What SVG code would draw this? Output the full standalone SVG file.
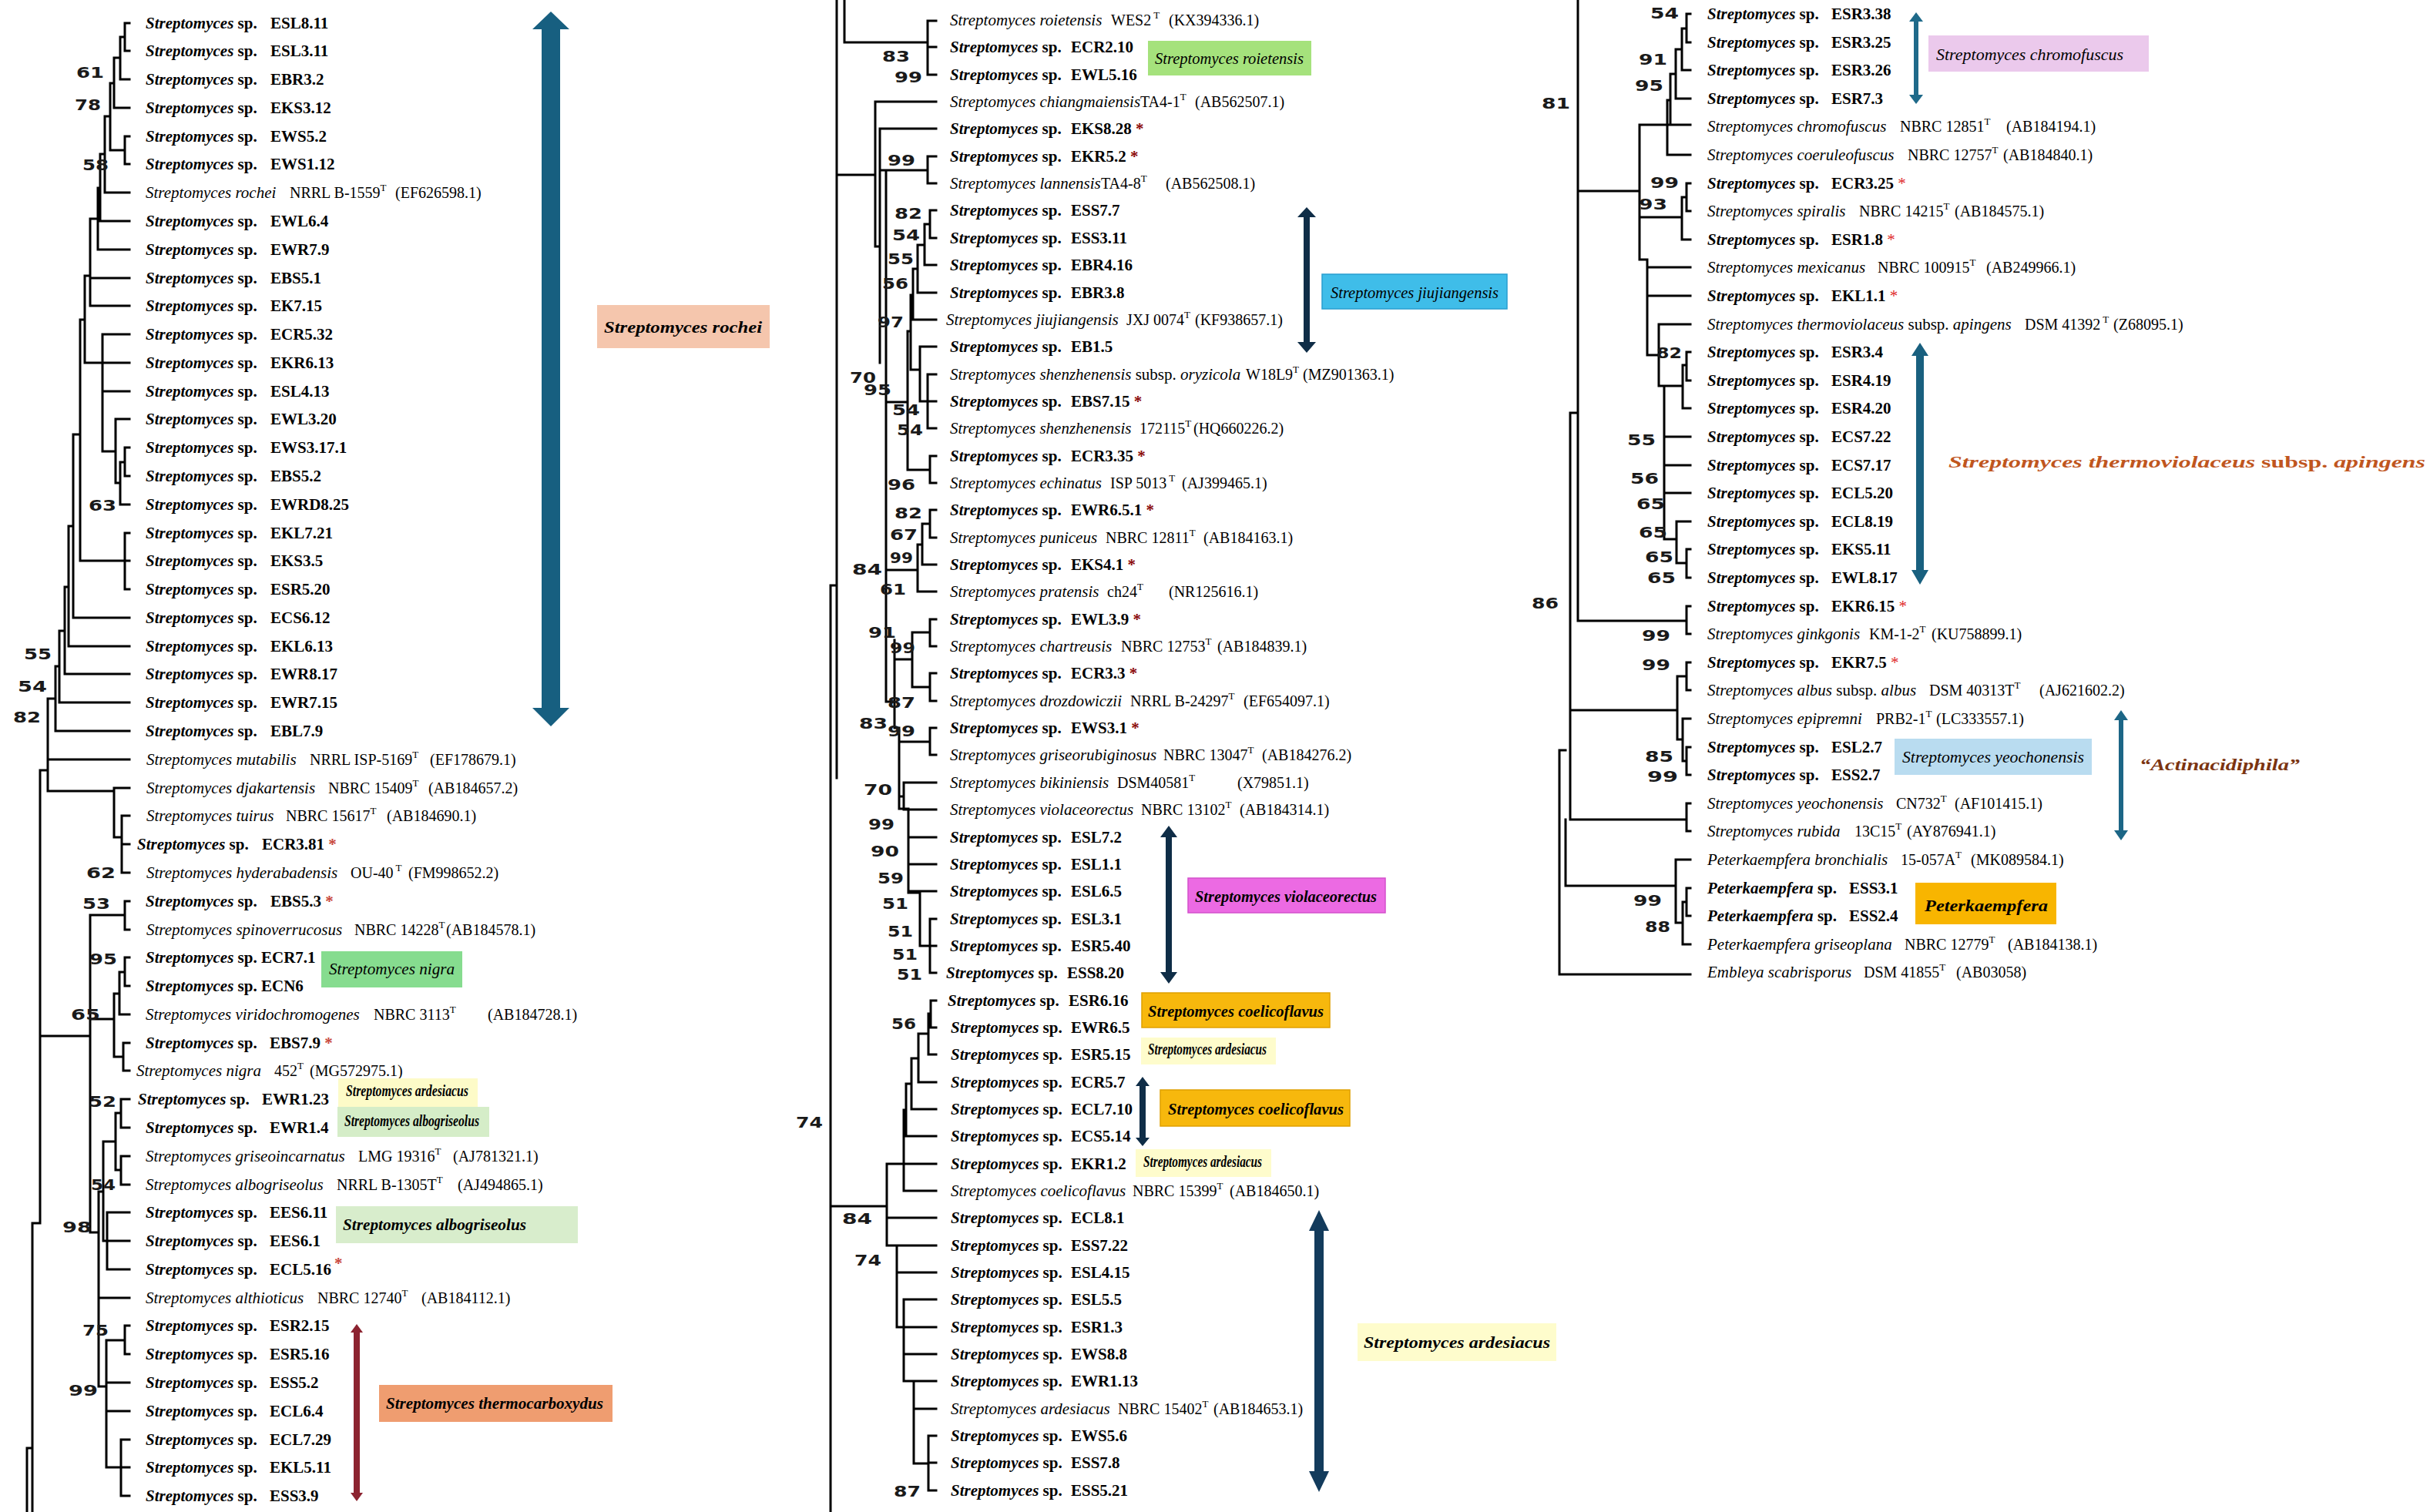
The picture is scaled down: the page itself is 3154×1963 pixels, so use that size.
<svg xmlns="http://www.w3.org/2000/svg" width="3154" height="1963" viewBox="0 0 3154 1963">
<style>
text{font-family:"Liberation Serif","Times New Roman",serif;font-size:21px;fill:#000}
.bi{font-weight:bold;font-style:italic}
.b{font-weight:bold}
.i{font-style:italic}
.r{font-size:20px}
.sup{font-size:13px}
.bs{font-family:"DejaVu Sans",sans-serif;font-weight:bold;font-size:19px;fill:#1a1a1a}
.aL{fill:#c8463c;font-weight:bold}
.aM{fill:#8b0a0a;font-weight:bold}
.aR{fill:#e02a2a}
.orange{fill:#c0561e}
.brown{fill:#7b3411}
.tree{fill:none;stroke:#000;stroke-width:3;stroke-linecap:square}
</style>
<rect width="3154" height="1963" fill="#fff"/>

<g id="connectors">
<path class="tree" d="M162 30V66M162 30H168M162 66H168 M156 48V103M156 48H162M156 103H168 M148 75V140M148 75H156M148 140H168 M162 177V213M162 177H168M162 213H168 M143 108V195M143 108H148M143 195H162 M136 151V250M136 151H143M136 250H168 M130 200V287M130 200H136M130 287H168 M127 244V324M127 244H130M127 324H168 M117 284V397M117 284H127M117 361H168M117 397H168 M110 358V471M110 358H117M110 471H133 M133 434V586M133 434H168M133 471H168M133 508H168M133 586H150 M150 544V627M150 544H168M150 627H156 M156 600V655M156 600H162M156 655H168 M162 581V618M162 581H168M162 618H168 M104 415V728M104 415H110M104 728H162 M162 692V765M162 692H168M162 728H168M162 765H168 M95 564V802M95 564H104M95 802H168 M89 683V839M89 683H95M89 839H168 M84 762V875M84 762H89M84 875H168 M77 819V912M77 819H84M77 912H168 M72 865V949M72 865H77M72 949H168 M62 907V1027M62 907H72M62 986H168M62 1027H148 M148 1023V1087M148 1023H168M148 1087H158 M158 1059V1133M158 1059H168M158 1096H168M158 1133H168 M162 1170V1207M162 1170H168M162 1207H168 M162 1243V1280M162 1243H168M162 1280H168 M155 1262V1317M155 1262H162M155 1317H168 M160 1354V1390M160 1354H168M160 1390H168 M148 1290V1372M148 1290H155M148 1372H160 M117 1188V1600M117 1188H162M117 1323H148M117 1600H128 M52 1000V1588M52 1000H62M52 1345H117 M157 1427V1464M157 1427H168M157 1464H168 M157 1501V1538M157 1501H168M157 1538H168 M150 1445V1519M150 1445H157M150 1519H157 M139 1574V1648M139 1574H168M139 1611H168M139 1648H168 M134 1482V1611M134 1482H150M134 1611H139 M128 1547V1800M128 1547H134M128 1685H168M128 1800H138 M162 1721V1758M162 1721H168M162 1758H168 M157 1869V1942M157 1869H168M157 1905H168M157 1942H168 M138 1740V1905M138 1740H162M138 1795H168M138 1832H168M138 1905H157 M42 1588V1963M42 1588H52M35 1880V1963M35 1880H42"/>
<path class="tree" d="M1086 0V1010M1078 760V1963M1078 760H1086 M1096 0V55H1204M1204 27V97M1204 27H1215M1204 61H1215M1204 97H1215 M1086 227H1136 M1136 132V320M1136 132H1215M1136 320H1142 M1142 167V471M1142 167H1215M1142 221H1204 M1204 203V238M1204 203H1215M1204 238H1215 M1150 223V911 M1207 273V309M1207 273H1215M1207 309H1215 M1200 291V344M1200 291H1207M1200 344H1215 M1191 318V380M1191 318H1200M1191 380H1215 M1185 349V415M1185 349H1191M1185 415H1215 M1182 383V480M1182 383H1185M1182 480H1194 M1194 450V521M1194 450H1215M1194 521H1204 M1204 486V556M1204 486H1215M1204 521H1215M1204 556H1215 M1178 430V610M1178 430H1182M1178 610H1207 M1207 592V627M1207 592H1215M1207 627H1215 M1150 522H1178 M1207 662V698M1207 662H1215M1207 698H1215 M1197 680V733M1197 680H1207M1197 733H1215 M1191 707V768M1191 707H1197M1191 768H1215 M1150 740H1191 M1207 804V839M1207 804H1215M1207 839H1215 M1207 874V910M1207 874H1215M1207 910H1215 M1184 821V892M1184 821H1207M1184 892H1207 M1161 831V945M1161 856H1184M1150 911H1161M1161 945H1167 M1167 945V1050M1167 963H1207 M1207 945V980M1207 945H1215M1207 980H1215 M1173 1016V1051M1173 1016H1215M1173 1051H1215M1167 1034H1173M1167 1050H1179 M1179 1050V1159M1179 1087H1215M1179 1122H1215M1179 1157H1215M1179 1159H1194 M1194 1159V1228M1194 1228H1207 M1207 1193V1263M1207 1193H1215M1207 1228H1215M1207 1263H1215 M1208 1299V1334M1208 1299H1215M1208 1334H1215 M1205 1316V1369M1205 1316H1208M1205 1369H1215 M1192 1342V1405M1192 1342H1205M1192 1405H1215 M1183 1374V1440M1183 1374H1192M1183 1440H1215 M1176 1407V1475M1176 1407H1183M1176 1475H1215 M1173 1441V1546M1173 1441H1176M1173 1546H1215 M1151 1511V1617M1151 1511H1215M1151 1581H1215M1151 1617H1164M1078 1566H1151 M1164 1617V1723M1164 1617H1215M1164 1652H1215M1164 1723H1173 M1173 1687V1793M1173 1687H1215M1173 1723H1215M1173 1758H1215M1173 1793H1215 M1186 1793V1900M1186 1829H1215M1186 1900H1205 M1205 1864V1935M1205 1864H1215M1205 1899H1215M1205 1935H1215"/>
<path class="tree" d="M2048 0V806M2048 806H2189 M2189 787V823M2189 787H2194M2189 823H2194 M2048 248H2128 M2128 162V337M2128 162H2194M2128 282H2183M2128 337H2138 M2189 18V55M2189 18H2194M2189 55H2194 M2183 37V91M2183 37H2189M2183 91H2194 M2175 64V128M2175 64H2183M2175 128H2194 M2168 96V162M2168 96H2175 M2164 130V201M2164 130H2168M2164 201H2194 M2189 238V274M2189 238H2194M2189 274H2194 M2183 256V311M2183 256H2189M2183 311H2194 M2138 337V461M2138 347H2194M2138 384H2194M2138 461H2153 M2153 421V501M2153 421H2194M2153 501H2184 M2189 457V494M2189 457H2194M2189 494H2194 M2184 474V530M2184 474H2189M2184 530H2194 M2160 501V700M2160 567H2194M2160 604H2194M2160 640H2194M2160 700H2176 M2176 677V731M2176 677H2194M2176 731H2189 M2189 713V750M2189 713H2194M2189 750H2194 M2038 536V1064M2038 536H2048M2038 922H2177M2038 1064H2189 M2032 1064V1150M2032 1150H2175 M2189 860V896M2189 860H2194M2189 896H2194 M2184 933V988M2184 933H2194M2184 988H2189 M2189 970V1006M2189 970H2194M2189 1006H2194 M2177 878V960M2177 878H2189M2177 960H2184 M2189 1043V1079M2189 1043H2194M2189 1079H2194 M2175 1116V1198M2175 1116H2194M2175 1198H2184 M2184 1171V1226M2184 1171H2189M2184 1226H2194 M2189 1153V1189M2189 1153H2194M2189 1189H2194 M2024 974V1265M2024 974H2032M2024 1265H2194"/>
</g>

<g id="bootstrap">
<text class="bs" x="99" y="101" textLength="36" lengthAdjust="spacingAndGlyphs">61</text>
<text class="bs" x="97" y="143" textLength="34" lengthAdjust="spacingAndGlyphs">78</text>
<text class="bs" x="107" y="221" textLength="34" lengthAdjust="spacingAndGlyphs">58</text>
<text class="bs" x="115" y="663" textLength="36" lengthAdjust="spacingAndGlyphs">63</text>
<text class="bs" x="31" y="856" textLength="36" lengthAdjust="spacingAndGlyphs">55</text>
<text class="bs" x="23" y="898" textLength="38" lengthAdjust="spacingAndGlyphs">54</text>
<text class="bs" x="17" y="938" textLength="36" lengthAdjust="spacingAndGlyphs">82</text>
<text class="bs" x="112" y="1140" textLength="38" lengthAdjust="spacingAndGlyphs">62</text>
<text class="bs" x="107" y="1180" textLength="36" lengthAdjust="spacingAndGlyphs">53</text>
<text class="bs" x="116" y="1252" textLength="36" lengthAdjust="spacingAndGlyphs">95</text>
<text class="bs" x="92" y="1324" textLength="38" lengthAdjust="spacingAndGlyphs">65</text>
<text class="bs" x="115" y="1437" textLength="36" lengthAdjust="spacingAndGlyphs">52</text>
<text class="bs" x="118" y="1545" textLength="32" lengthAdjust="spacingAndGlyphs">54</text>
<text class="bs" x="81" y="1600" textLength="38" lengthAdjust="spacingAndGlyphs">98</text>
<text class="bs" x="107" y="1734" textLength="34" lengthAdjust="spacingAndGlyphs">75</text>
<text class="bs" x="89" y="1812" textLength="38" lengthAdjust="spacingAndGlyphs">99</text>

<text class="bs" x="1145" y="80" textLength="36" lengthAdjust="spacingAndGlyphs">83</text>
<text class="bs" x="1161" y="107" textLength="36" lengthAdjust="spacingAndGlyphs">99</text>
<text class="bs" x="1152" y="215" textLength="36" lengthAdjust="spacingAndGlyphs">99</text>
<text class="bs" x="1161" y="284" textLength="36" lengthAdjust="spacingAndGlyphs">82</text>
<text class="bs" x="1158" y="312" textLength="36" lengthAdjust="spacingAndGlyphs">54</text>
<text class="bs" x="1152" y="343" textLength="34" lengthAdjust="spacingAndGlyphs">55</text>
<text class="bs" x="1145" y="375" textLength="34" lengthAdjust="spacingAndGlyphs">56</text>
<text class="bs" x="1139" y="425" textLength="34" lengthAdjust="spacingAndGlyphs">97</text>
<text class="bs" x="1103" y="497" textLength="34" lengthAdjust="spacingAndGlyphs">70</text>
<text class="bs" x="1121" y="513" textLength="36" lengthAdjust="spacingAndGlyphs">95</text>
<text class="bs" x="1158" y="539" textLength="36" lengthAdjust="spacingAndGlyphs">54</text>
<text class="bs" x="1164" y="565" textLength="34" lengthAdjust="spacingAndGlyphs">54</text>
<text class="bs" x="1152" y="636" textLength="36" lengthAdjust="spacingAndGlyphs">96</text>
<text class="bs" x="1161" y="673" textLength="36" lengthAdjust="spacingAndGlyphs">82</text>
<text class="bs" x="1155" y="701" textLength="36" lengthAdjust="spacingAndGlyphs">67</text>
<text class="bs" x="1155" y="731" textLength="30" lengthAdjust="spacingAndGlyphs">99</text>
<text class="bs" x="1106" y="746" textLength="39" lengthAdjust="spacingAndGlyphs">84</text>
<text class="bs" x="1142" y="772" textLength="34" lengthAdjust="spacingAndGlyphs">61</text>
<text class="bs" x="1127" y="828" textLength="36" lengthAdjust="spacingAndGlyphs">91</text>
<text class="bs" x="1155" y="848" textLength="33" lengthAdjust="spacingAndGlyphs">99</text>
<text class="bs" x="1152" y="919" textLength="36" lengthAdjust="spacingAndGlyphs">87</text>
<text class="bs" x="1115" y="946" textLength="37" lengthAdjust="spacingAndGlyphs">83</text>
<text class="bs" x="1152" y="956" textLength="36" lengthAdjust="spacingAndGlyphs">99</text>
<text class="bs" x="1121" y="1032" textLength="37" lengthAdjust="spacingAndGlyphs">70</text>
<text class="bs" x="1127" y="1077" textLength="34" lengthAdjust="spacingAndGlyphs">99</text>
<text class="bs" x="1130" y="1112" textLength="37" lengthAdjust="spacingAndGlyphs">90</text>
<text class="bs" x="1139" y="1147" textLength="34" lengthAdjust="spacingAndGlyphs">59</text>
<text class="bs" x="1145" y="1180" textLength="34" lengthAdjust="spacingAndGlyphs">51</text>
<text class="bs" x="1152" y="1216" textLength="33" lengthAdjust="spacingAndGlyphs">51</text>
<text class="bs" x="1158" y="1246" textLength="33" lengthAdjust="spacingAndGlyphs">51</text>
<text class="bs" x="1164" y="1272" textLength="33" lengthAdjust="spacingAndGlyphs">51</text>
<text class="bs" x="1157" y="1336" textLength="32" lengthAdjust="spacingAndGlyphs">56</text>
<text class="bs" x="1033" y="1464" textLength="35" lengthAdjust="spacingAndGlyphs">74</text>
<text class="bs" x="1093" y="1589" textLength="39" lengthAdjust="spacingAndGlyphs">84</text>
<text class="bs" x="1109" y="1643" textLength="35" lengthAdjust="spacingAndGlyphs">74</text>
<text class="bs" x="1160" y="1943" textLength="35" lengthAdjust="spacingAndGlyphs">87</text>

<text class="bs" x="2142" y="24" textLength="37" lengthAdjust="spacingAndGlyphs">54</text>
<text class="bs" x="2127" y="84" textLength="37" lengthAdjust="spacingAndGlyphs">91</text>
<text class="bs" x="2122" y="118" textLength="37" lengthAdjust="spacingAndGlyphs">95</text>
<text class="bs" x="2001" y="141" textLength="37" lengthAdjust="spacingAndGlyphs">81</text>
<text class="bs" x="2142" y="244" textLength="37" lengthAdjust="spacingAndGlyphs">99</text>
<text class="bs" x="2127" y="272" textLength="37" lengthAdjust="spacingAndGlyphs">93</text>
<text class="bs" x="2150" y="465" textLength="33" lengthAdjust="spacingAndGlyphs">82</text>
<text class="bs" x="2112" y="578" textLength="37" lengthAdjust="spacingAndGlyphs">55</text>
<text class="bs" x="2116" y="628" textLength="37" lengthAdjust="spacingAndGlyphs">56</text>
<text class="bs" x="2124" y="661" textLength="37" lengthAdjust="spacingAndGlyphs">65</text>
<text class="bs" x="2127" y="698" textLength="37" lengthAdjust="spacingAndGlyphs">65</text>
<text class="bs" x="2135" y="730" textLength="37" lengthAdjust="spacingAndGlyphs">65</text>
<text class="bs" x="2138" y="757" textLength="37" lengthAdjust="spacingAndGlyphs">65</text>
<text class="bs" x="1988" y="790" textLength="35" lengthAdjust="spacingAndGlyphs">86</text>
<text class="bs" x="2131" y="832" textLength="37" lengthAdjust="spacingAndGlyphs">99</text>
<text class="bs" x="2131" y="870" textLength="37" lengthAdjust="spacingAndGlyphs">99</text>
<text class="bs" x="2135" y="989" textLength="37" lengthAdjust="spacingAndGlyphs">85</text>
<text class="bs" x="2138" y="1015" textLength="40" lengthAdjust="spacingAndGlyphs">99</text>
<text class="bs" x="2120" y="1176" textLength="37" lengthAdjust="spacingAndGlyphs">99</text>
<text class="bs" x="2135" y="1210" textLength="33" lengthAdjust="spacingAndGlyphs">88</text>
</g>

<g id="left-leaves">
<g id="L00"><text x="189" y="37"><tspan class="bi">Streptomyces</tspan><tspan class="b"> sp.</tspan><tspan class="b" x="351">ESL8.11</tspan></text></g>
<g id="L01"><text x="189" y="73"><tspan class="bi">Streptomyces</tspan><tspan class="b"> sp.</tspan><tspan class="b" x="351">ESL3.11</tspan></text></g>
<g id="L02"><text x="189" y="110"><tspan class="bi">Streptomyces</tspan><tspan class="b"> sp.</tspan><tspan class="b" x="351">EBR3.2</tspan></text></g>
<g id="L03"><text x="189" y="147"><tspan class="bi">Streptomyces</tspan><tspan class="b"> sp.</tspan><tspan class="b" x="351">EKS3.12</tspan></text></g>
<g id="L04"><text x="189" y="184"><tspan class="bi">Streptomyces</tspan><tspan class="b"> sp.</tspan><tspan class="b" x="351">EWS5.2</tspan></text></g>
<g id="L05"><text x="189" y="220"><tspan class="bi">Streptomyces</tspan><tspan class="b"> sp.</tspan><tspan class="b" x="351">EWS1.12</tspan></text></g>
<g id="L06"><text x="189" y="257"><tspan class="i">Streptomyces rochei</tspan><tspan class="r" x="376">NRRL B-1559</tspan><tspan class="sup" dy="-9">T</tspan><tspan class="r" x="513" dy="9">(EF626598.1)</tspan></text></g>
<g id="L07"><text x="189" y="294"><tspan class="bi">Streptomyces</tspan><tspan class="b"> sp.</tspan><tspan class="b" x="351">EWL6.4</tspan></text></g>
<g id="L08"><text x="189" y="331"><tspan class="bi">Streptomyces</tspan><tspan class="b"> sp.</tspan><tspan class="b" x="351">EWR7.9</tspan></text></g>
<g id="L09"><text x="189" y="368"><tspan class="bi">Streptomyces</tspan><tspan class="b"> sp.</tspan><tspan class="b" x="351">EBS5.1</tspan></text></g>
<g id="L10"><text x="189" y="404"><tspan class="bi">Streptomyces</tspan><tspan class="b"> sp.</tspan><tspan class="b" x="351">EK7.15</tspan></text></g>
<g id="L11"><text x="189" y="441"><tspan class="bi">Streptomyces</tspan><tspan class="b"> sp.</tspan><tspan class="b" x="351">ECR5.32</tspan></text></g>
<g id="L12"><text x="189" y="478"><tspan class="bi">Streptomyces</tspan><tspan class="b"> sp.</tspan><tspan class="b" x="351">EKR6.13</tspan></text></g>
<g id="L13"><text x="189" y="515"><tspan class="bi">Streptomyces</tspan><tspan class="b"> sp.</tspan><tspan class="b" x="351">ESL4.13</tspan></text></g>
<g id="L14"><text x="189" y="551"><tspan class="bi">Streptomyces</tspan><tspan class="b"> sp.</tspan><tspan class="b" x="351">EWL3.20</tspan></text></g>
<g id="L15"><text x="189" y="588"><tspan class="bi">Streptomyces</tspan><tspan class="b"> sp.</tspan><tspan class="b" x="351">EWS3.17.1</tspan></text></g>
<g id="L16"><text x="189" y="625"><tspan class="bi">Streptomyces</tspan><tspan class="b"> sp.</tspan><tspan class="b" x="351">EBS5.2</tspan></text></g>
<g id="L17"><text x="189" y="662"><tspan class="bi">Streptomyces</tspan><tspan class="b"> sp.</tspan><tspan class="b" x="351">EWRD8.25</tspan></text></g>
<g id="L18"><text x="189" y="699"><tspan class="bi">Streptomyces</tspan><tspan class="b"> sp.</tspan><tspan class="b" x="351">EKL7.21</tspan></text></g>
<g id="L19"><text x="189" y="735"><tspan class="bi">Streptomyces</tspan><tspan class="b"> sp.</tspan><tspan class="b" x="351">EKS3.5</tspan></text></g>
<g id="L20"><text x="189" y="772"><tspan class="bi">Streptomyces</tspan><tspan class="b"> sp.</tspan><tspan class="b" x="351">ESR5.20</tspan></text></g>
<g id="L21"><text x="189" y="809"><tspan class="bi">Streptomyces</tspan><tspan class="b"> sp.</tspan><tspan class="b" x="351">ECS6.12</tspan></text></g>
<g id="L22"><text x="189" y="846"><tspan class="bi">Streptomyces</tspan><tspan class="b"> sp.</tspan><tspan class="b" x="351">EKL6.13</tspan></text></g>
<g id="L23"><text x="189" y="882"><tspan class="bi">Streptomyces</tspan><tspan class="b"> sp.</tspan><tspan class="b" x="351">EWR8.17</tspan></text></g>
<g id="L24"><text x="189" y="919"><tspan class="bi">Streptomyces</tspan><tspan class="b"> sp.</tspan><tspan class="b" x="351">EWR7.15</tspan></text></g>
<g id="L25"><text x="189" y="956"><tspan class="bi">Streptomyces</tspan><tspan class="b"> sp.</tspan><tspan class="b" x="351">EBL7.9</tspan></text></g>
<g id="L26"><text x="190" y="993"><tspan class="i">Streptomyces mutabilis</tspan><tspan class="r" x="402">NRRL ISP-5169</tspan><tspan class="sup" dy="-9">T</tspan><tspan class="r" x="558" dy="9">(EF178679.1)</tspan></text></g>
<g id="L27"><text x="190" y="1030"><tspan class="i">Streptomyces djakartensis</tspan><tspan class="r" x="426">NBRC 15409</tspan><tspan class="sup" dy="-9">T</tspan><tspan class="r" x="556" dy="9">(AB184657.2)</tspan></text></g>
<g id="L28"><text x="190" y="1066"><tspan class="i">Streptomyces tuirus</tspan><tspan class="r" x="371">NBRC 15617</tspan><tspan class="sup" dy="-9">T</tspan><tspan class="r" x="502" dy="9">(AB184690.1)</tspan></text></g>
<g id="L29"><text x="178" y="1103"><tspan class="bi">Streptomyces</tspan><tspan class="b"> sp.</tspan><tspan class="b" x="340">ECR3.81</tspan><tspan class="aL"> *</tspan></text></g>
<g id="L30"><text x="190" y="1140"><tspan class="i">Streptomyces hyderabadensis</tspan><tspan class="r" x="455">OU-40</tspan><tspan class="sup" dy="-9"> T</tspan><tspan class="r" x="530" dy="9">(FM998652.2)</tspan></text></g>
<g id="L31"><text x="189" y="1177"><tspan class="bi">Streptomyces</tspan><tspan class="b"> sp.</tspan><tspan class="b" x="351">EBS5.3</tspan><tspan class="aL"> *</tspan></text></g>
<g id="L32"><text x="190" y="1214"><tspan class="i">Streptomyces spinoverrucosus</tspan><tspan class="r" x="460">NBRC 14228</tspan><tspan class="sup" dy="-9">T</tspan><tspan class="r" x="579" dy="9">(AB184578.1)</tspan></text></g>
<g id="L33"><text x="189" y="1250"><tspan class="bi">Streptomyces</tspan><tspan class="b"> sp.</tspan><tspan class="b" x="339">ECR7.1</tspan></text></g>
<g id="L34"><text x="189" y="1287"><tspan class="bi">Streptomyces</tspan><tspan class="b"> sp.</tspan><tspan class="b" x="339">ECN6</tspan></text></g>
<g id="L35"><text x="189" y="1324"><tspan class="i">Streptomyces viridochromogenes</tspan><tspan class="r" x="485">NBRC 3113</tspan><tspan class="sup" dy="-9">T</tspan><tspan class="r" x="633" dy="9">(AB184728.1)</tspan></text></g>
<g id="L36"><text x="189" y="1361"><tspan class="bi">Streptomyces</tspan><tspan class="b"> sp.</tspan><tspan class="b" x="350">EBS7.9</tspan><tspan class="aL"> *</tspan></text></g>
<g id="L37"><text x="177" y="1397"><tspan class="i">Streptomyces nigra</tspan><tspan class="r" x="356">452</tspan><tspan class="sup" dy="-9">T</tspan><tspan class="r" x="402" dy="9">(MG572975.1)</tspan></text></g>
<g id="L38"><text x="179" y="1434"><tspan class="bi">Streptomyces</tspan><tspan class="b"> sp.</tspan><tspan class="b" x="340">EWR1.23</tspan></text></g>
<g id="L39"><text x="189" y="1471"><tspan class="bi">Streptomyces</tspan><tspan class="b"> sp.</tspan><tspan class="b" x="350">EWR1.4</tspan></text></g>
<g id="L40"><text x="189" y="1508"><tspan class="i">Streptomyces griseoincarnatus</tspan><tspan class="r" x="465">LMG 19316</tspan><tspan class="sup" dy="-9">T</tspan><tspan class="r" x="588" dy="9">(AJ781321.1)</tspan></text></g>
<g id="L41"><text x="189" y="1545"><tspan class="i">Streptomyces albogriseolus</tspan><tspan class="r" x="437">NRRL B-1305T</tspan><tspan class="sup" dy="-9">T</tspan><tspan class="r" x="594" dy="9">(AJ494865.1)</tspan></text></g>
<g id="L42"><text x="189" y="1581"><tspan class="bi">Streptomyces</tspan><tspan class="b"> sp.</tspan><tspan class="b" x="350">EES6.11</tspan></text></g>
<g id="L43"><text x="189" y="1618"><tspan class="bi">Streptomyces</tspan><tspan class="b"> sp.</tspan><tspan class="b" x="350">EES6.1</tspan></text></g>
<g id="L44"><text x="189" y="1655"><tspan class="bi">Streptomyces</tspan><tspan class="b"> sp.</tspan><tspan class="b" x="350">ECL5.16</tspan><tspan class="aL" dx="4" dy="-8">*</tspan></text></g>
<g id="L45"><text x="189" y="1692"><tspan class="i">Streptomyces althioticus</tspan><tspan class="r" x="412">NBRC 12740</tspan><tspan class="sup" dy="-9">T</tspan><tspan class="r" x="547" dy="9">(AB184112.1)</tspan></text></g>
<g id="L46"><text x="189" y="1728"><tspan class="bi">Streptomyces</tspan><tspan class="b"> sp.</tspan><tspan class="b" x="350">ESR2.15</tspan></text></g>
<g id="L47"><text x="189" y="1765"><tspan class="bi">Streptomyces</tspan><tspan class="b"> sp.</tspan><tspan class="b" x="350">ESR5.16</tspan></text></g>
<g id="L48"><text x="189" y="1802"><tspan class="bi">Streptomyces</tspan><tspan class="b"> sp.</tspan><tspan class="b" x="350">ESS5.2</tspan></text></g>
<g id="L49"><text x="189" y="1839"><tspan class="bi">Streptomyces</tspan><tspan class="b"> sp.</tspan><tspan class="b" x="350">ECL6.4</tspan></text></g>
<g id="L50"><text x="189" y="1876"><tspan class="bi">Streptomyces</tspan><tspan class="b"> sp.</tspan><tspan class="b" x="350">ECL7.29</tspan></text></g>
<g id="L51"><text x="189" y="1912"><tspan class="bi">Streptomyces</tspan><tspan class="b"> sp.</tspan><tspan class="b" x="350">EKL5.11</tspan></text></g>
<g id="L52"><text x="189" y="1949"><tspan class="bi">Streptomyces</tspan><tspan class="b"> sp.</tspan><tspan class="b" x="350">ESS3.9</tspan></text></g>
</g>

<g id="middle-leaves">
<g id="M00"><text x="1233" y="33"><tspan class="i">Streptomyces roietensis</tspan><tspan class="r" x="1442">WES2</tspan><tspan class="sup" dy="-9"> T</tspan><tspan class="r" x="1517" dy="9">(KX394336.1)</tspan></text></g>
<g id="M01"><text x="1233" y="68"><tspan class="bi">Streptomyces</tspan><tspan class="b"> sp.</tspan><tspan class="b" x="1390">ECR2.10</tspan></text></g>
<g id="M02"><text x="1233" y="104"><tspan class="bi">Streptomyces</tspan><tspan class="b"> sp.</tspan><tspan class="b" x="1390">EWL5.16</tspan></text></g>
<g id="M03"><text x="1233" y="139"><tspan class="i">Streptomyces chiangmaiensis</tspan><tspan class="r" x="1480">TA4-1</tspan><tspan class="sup" dy="-9">T</tspan><tspan class="r" x="1551" dy="9">(AB562507.1)</tspan></text></g>
<g id="M04"><text x="1233" y="174"><tspan class="bi">Streptomyces</tspan><tspan class="b"> sp.</tspan><tspan class="b" x="1390">EKS8.28</tspan><tspan class="aM"> *</tspan></text></g>
<g id="M05"><text x="1233" y="210"><tspan class="bi">Streptomyces</tspan><tspan class="b"> sp.</tspan><tspan class="b" x="1390">EKR5.2</tspan><tspan class="aM"> *</tspan></text></g>
<g id="M06"><text x="1233" y="245"><tspan class="i">Streptomyces lannensis</tspan><tspan class="r" x="1429">TA4-8</tspan><tspan class="sup" dy="-9">T</tspan><tspan class="r" x="1513" dy="9">(AB562508.1)</tspan></text></g>
<g id="M07"><text x="1233" y="280"><tspan class="bi">Streptomyces</tspan><tspan class="b"> sp.</tspan><tspan class="b" x="1390">ESS7.7</tspan></text></g>
<g id="M08"><text x="1233" y="316"><tspan class="bi">Streptomyces</tspan><tspan class="b"> sp.</tspan><tspan class="b" x="1390">ESS3.11</tspan></text></g>
<g id="M09"><text x="1233" y="351"><tspan class="bi">Streptomyces</tspan><tspan class="b"> sp.</tspan><tspan class="b" x="1390">EBR4.16</tspan></text></g>
<g id="M10"><text x="1233" y="387"><tspan class="bi">Streptomyces</tspan><tspan class="b"> sp.</tspan><tspan class="b" x="1390">EBR3.8</tspan></text></g>
<g id="M11"><text x="1228" y="422"><tspan class="i">Streptomyces jiujiangensis</tspan><tspan class="r" x="1462">JXJ 0074</tspan><tspan class="sup" dy="-9">T</tspan><tspan class="r" x="1551" dy="9">(KF938657.1)</tspan></text></g>
<g id="M12"><text x="1233" y="457"><tspan class="bi">Streptomyces</tspan><tspan class="b"> sp.</tspan><tspan class="b" x="1390">EB1.5</tspan></text></g>
<g id="M13"><text x="1233" y="493"><tspan class="i">Streptomyces shenzhenensis</tspan><tspan> subsp. </tspan><tspan class="i">oryzicola</tspan><tspan class="r" x="1617">W18L9</tspan><tspan class="sup" dy="-9">T</tspan><tspan class="r" x="1691" dy="9">(MZ901363.1)</tspan></text></g>
<g id="M14"><text x="1233" y="528"><tspan class="bi">Streptomyces</tspan><tspan class="b"> sp.</tspan><tspan class="b" x="1390">EBS7.15</tspan><tspan class="aM"> *</tspan></text></g>
<g id="M15"><text x="1233" y="563"><tspan class="i">Streptomyces shenzhenensis</tspan><tspan class="r" x="1479">172115</tspan><tspan class="sup" dy="-9">T</tspan><tspan class="r" x="1549" dy="9">(HQ660226.2)</tspan></text></g>
<g id="M16"><text x="1233" y="599"><tspan class="bi">Streptomyces</tspan><tspan class="b"> sp.</tspan><tspan class="b" x="1390">ECR3.35</tspan><tspan class="aM"> *</tspan></text></g>
<g id="M17"><text x="1233" y="634"><tspan class="i">Streptomyces echinatus</tspan><tspan class="r" x="1441">ISP 5013</tspan><tspan class="sup" dy="-9"> T</tspan><tspan class="r" x="1534" dy="9">(AJ399465.1)</tspan></text></g>
<g id="M18"><text x="1233" y="669"><tspan class="bi">Streptomyces</tspan><tspan class="b"> sp.</tspan><tspan class="b" x="1390">EWR6.5.1</tspan><tspan class="aM"> *</tspan></text></g>
<g id="M19"><text x="1233" y="705"><tspan class="i">Streptomyces puniceus</tspan><tspan class="r" x="1435">NBRC 12811</tspan><tspan class="sup" dy="-9">T</tspan><tspan class="r" x="1562" dy="9">(AB184163.1)</tspan></text></g>
<g id="M20"><text x="1233" y="740"><tspan class="bi">Streptomyces</tspan><tspan class="b"> sp.</tspan><tspan class="b" x="1390">EKS4.1</tspan><tspan class="aM"> *</tspan></text></g>
<g id="M21"><text x="1233" y="775"><tspan class="i">Streptomyces pratensis</tspan><tspan class="r" x="1437">ch24</tspan><tspan class="sup" dy="-9">T</tspan><tspan class="r" x="1517" dy="9">(NR125616.1)</tspan></text></g>
<g id="M22"><text x="1233" y="811"><tspan class="bi">Streptomyces</tspan><tspan class="b"> sp.</tspan><tspan class="b" x="1390">EWL3.9</tspan><tspan class="aM"> *</tspan></text></g>
<g id="M23"><text x="1233" y="846"><tspan class="i">Streptomyces chartreusis</tspan><tspan class="r" x="1455">NBRC 12753</tspan><tspan class="sup" dy="-9">T</tspan><tspan class="r" x="1580" dy="9">(AB184839.1)</tspan></text></g>
<g id="M24"><text x="1233" y="881"><tspan class="bi">Streptomyces</tspan><tspan class="b"> sp.</tspan><tspan class="b" x="1390">ECR3.3</tspan><tspan class="aM"> *</tspan></text></g>
<g id="M25"><text x="1233" y="917"><tspan class="i">Streptomyces drozdowiczii</tspan><tspan class="r" x="1467">NRRL B-24297</tspan><tspan class="sup" dy="-9">T</tspan><tspan class="r" x="1614" dy="9">(EF654097.1)</tspan></text></g>
<g id="M26"><text x="1233" y="952"><tspan class="bi">Streptomyces</tspan><tspan class="b"> sp.</tspan><tspan class="b" x="1390">EWS3.1</tspan><tspan class="aM"> *</tspan></text></g>
<g id="M27"><text x="1233" y="987"><tspan class="i">Streptomyces griseorubiginosus</tspan><tspan class="r" x="1510">NBRC 13047</tspan><tspan class="sup" dy="-9">T</tspan><tspan class="r" x="1638" dy="9">(AB184276.2)</tspan></text></g>
<g id="M28"><text x="1233" y="1023"><tspan class="i">Streptomyces bikiniensis</tspan><tspan class="r" x="1450">DSM40581</tspan><tspan class="sup" dy="-9">T</tspan><tspan class="r" x="1606" dy="9">(X79851.1)</tspan></text></g>
<g id="M29"><text x="1233" y="1058"><tspan class="i">Streptomyces violaceorectus</tspan><tspan class="r" x="1481">NBRC 13102</tspan><tspan class="sup" dy="-9">T</tspan><tspan class="r" x="1609" dy="9">(AB184314.1)</tspan></text></g>
<g id="M30"><text x="1233" y="1094"><tspan class="bi">Streptomyces</tspan><tspan class="b"> sp.</tspan><tspan class="b" x="1390">ESL7.2</tspan></text></g>
<g id="M31"><text x="1233" y="1129"><tspan class="bi">Streptomyces</tspan><tspan class="b"> sp.</tspan><tspan class="b" x="1390">ESL1.1</tspan></text></g>
<g id="M32"><text x="1233" y="1164"><tspan class="bi">Streptomyces</tspan><tspan class="b"> sp.</tspan><tspan class="b" x="1390">ESL6.5</tspan></text></g>
<g id="M33"><text x="1233" y="1200"><tspan class="bi">Streptomyces</tspan><tspan class="b"> sp.</tspan><tspan class="b" x="1390">ESL3.1</tspan></text></g>
<g id="M34"><text x="1233" y="1235"><tspan class="bi">Streptomyces</tspan><tspan class="b"> sp.</tspan><tspan class="b" x="1390">ESR5.40</tspan></text></g>
<g id="M35"><text x="1228" y="1270"><tspan class="bi">Streptomyces</tspan><tspan class="b"> sp.</tspan><tspan class="b" x="1385">ESS8.20</tspan></text></g>
<g id="M36"><text x="1230" y="1306"><tspan class="bi">Streptomyces</tspan><tspan class="b"> sp.</tspan><tspan class="b" x="1387">ESR6.16</tspan></text></g>
<g id="M37"><text x="1234" y="1341"><tspan class="bi">Streptomyces</tspan><tspan class="b"> sp.</tspan><tspan class="b" x="1390">EWR6.5</tspan></text></g>
<g id="M38"><text x="1234" y="1376"><tspan class="bi">Streptomyces</tspan><tspan class="b"> sp.</tspan><tspan class="b" x="1390">ESR5.15</tspan></text></g>
<g id="M39"><text x="1234" y="1412"><tspan class="bi">Streptomyces</tspan><tspan class="b"> sp.</tspan><tspan class="b" x="1390">ECR5.7</tspan></text></g>
<g id="M40"><text x="1234" y="1447"><tspan class="bi">Streptomyces</tspan><tspan class="b"> sp.</tspan><tspan class="b" x="1390">ECL7.10</tspan></text></g>
<g id="M41"><text x="1234" y="1482"><tspan class="bi">Streptomyces</tspan><tspan class="b"> sp.</tspan><tspan class="b" x="1390">ECS5.14</tspan></text></g>
<g id="M42"><text x="1234" y="1518"><tspan class="bi">Streptomyces</tspan><tspan class="b"> sp.</tspan><tspan class="b" x="1390">EKR1.2</tspan></text></g>
<g id="M43"><text x="1234" y="1553"><tspan class="i">Streptomyces coelicoflavus</tspan><tspan class="r" x="1470">NBRC 15399</tspan><tspan class="sup" dy="-9">T</tspan><tspan class="r" x="1596" dy="9">(AB184650.1)</tspan></text></g>
<g id="M44"><text x="1234" y="1588"><tspan class="bi">Streptomyces</tspan><tspan class="b"> sp.</tspan><tspan class="b" x="1390">ECL8.1</tspan></text></g>
<g id="M45"><text x="1234" y="1624"><tspan class="bi">Streptomyces</tspan><tspan class="b"> sp.</tspan><tspan class="b" x="1390">ESS7.22</tspan></text></g>
<g id="M46"><text x="1234" y="1659"><tspan class="bi">Streptomyces</tspan><tspan class="b"> sp.</tspan><tspan class="b" x="1390">ESL4.15</tspan></text></g>
<g id="M47"><text x="1234" y="1694"><tspan class="bi">Streptomyces</tspan><tspan class="b"> sp.</tspan><tspan class="b" x="1390">ESL5.5</tspan></text></g>
<g id="M48"><text x="1234" y="1730"><tspan class="bi">Streptomyces</tspan><tspan class="b"> sp.</tspan><tspan class="b" x="1390">ESR1.3</tspan></text></g>
<g id="M49"><text x="1234" y="1765"><tspan class="bi">Streptomyces</tspan><tspan class="b"> sp.</tspan><tspan class="b" x="1390">EWS8.8</tspan></text></g>
<g id="M50"><text x="1234" y="1800"><tspan class="bi">Streptomyces</tspan><tspan class="b"> sp.</tspan><tspan class="b" x="1390">EWR1.13</tspan></text></g>
<g id="M51"><text x="1234" y="1836"><tspan class="i">Streptomyces ardesiacus</tspan><tspan class="r" x="1451">NBRC 15402</tspan><tspan class="sup" dy="-9">T</tspan><tspan class="r" x="1575" dy="9">(AB184653.1)</tspan></text></g>
<g id="M52"><text x="1234" y="1871"><tspan class="bi">Streptomyces</tspan><tspan class="b"> sp.</tspan><tspan class="b" x="1390">EWS5.6</tspan></text></g>
<g id="M53"><text x="1234" y="1906"><tspan class="bi">Streptomyces</tspan><tspan class="b"> sp.</tspan><tspan class="b" x="1390">ESS7.8</tspan></text></g>
<g id="M54"><text x="1234" y="1942"><tspan class="bi">Streptomyces</tspan><tspan class="b"> sp.</tspan><tspan class="b" x="1390">ESS5.21</tspan></text></g>
</g>

<g id="right-leaves">
<g id="R00"><text x="2216" y="25"><tspan class="bi">Streptomyces</tspan><tspan class="b"> sp.</tspan><tspan class="b" x="2377">ESR3.38</tspan></text></g>
<g id="R01"><text x="2216" y="62"><tspan class="bi">Streptomyces</tspan><tspan class="b"> sp.</tspan><tspan class="b" x="2377">ESR3.25</tspan></text></g>
<g id="R02"><text x="2216" y="98"><tspan class="bi">Streptomyces</tspan><tspan class="b"> sp.</tspan><tspan class="b" x="2377">ESR3.26</tspan></text></g>
<g id="R03"><text x="2216" y="135"><tspan class="bi">Streptomyces</tspan><tspan class="b"> sp.</tspan><tspan class="b" x="2377">ESR7.3</tspan></text></g>
<g id="R04"><text x="2216" y="171"><tspan class="i">Streptomyces chromofuscus</tspan><tspan class="r" x="2466">NBRC 12851</tspan><tspan class="sup" dy="-9">T</tspan><tspan class="r" x="2604" dy="9">(AB184194.1)</tspan></text></g>
<g id="R05"><text x="2216" y="208"><tspan class="i">Streptomyces coeruleofuscus</tspan><tspan class="r" x="2476">NBRC 12757</tspan><tspan class="sup" dy="-9">T</tspan><tspan class="r" x="2600" dy="9">(AB184840.1)</tspan></text></g>
<g id="R06"><text x="2216" y="245"><tspan class="bi">Streptomyces</tspan><tspan class="b"> sp.</tspan><tspan class="b" x="2377">ECR3.25</tspan><tspan class="aR"> *</tspan></text></g>
<g id="R07"><text x="2216" y="281"><tspan class="i">Streptomyces spiralis</tspan><tspan class="r" x="2413">NBRC 14215</tspan><tspan class="sup" dy="-9">T</tspan><tspan class="r" x="2537" dy="9">(AB184575.1)</tspan></text></g>
<g id="R08"><text x="2216" y="318"><tspan class="bi">Streptomyces</tspan><tspan class="b"> sp.</tspan><tspan class="b" x="2377">ESR1.8</tspan><tspan class="aR"> *</tspan></text></g>
<g id="R09"><text x="2216" y="354"><tspan class="i">Streptomyces mexicanus</tspan><tspan class="r" x="2437">NBRC 100915</tspan><tspan class="sup" dy="-9">T</tspan><tspan class="r" x="2578" dy="9">(AB249966.1)</tspan></text></g>
<g id="R10"><text x="2216" y="391"><tspan class="bi">Streptomyces</tspan><tspan class="b"> sp.</tspan><tspan class="b" x="2377">EKL1.1</tspan><tspan class="aR"> *</tspan></text></g>
<g id="R11"><text x="2216" y="428"><tspan class="i">Streptomyces thermoviolaceus</tspan><tspan> subsp. </tspan><tspan class="i">apingens</tspan><tspan class="r" x="2628">DSM 41392</tspan><tspan class="sup" dy="-9"> T</tspan><tspan class="r" x="2743" dy="9">(Z68095.1)</tspan></text></g>
<g id="R12"><text x="2216" y="464"><tspan class="bi">Streptomyces</tspan><tspan class="b"> sp.</tspan><tspan class="b" x="2377">ESR3.4</tspan></text></g>
<g id="R13"><text x="2216" y="501"><tspan class="bi">Streptomyces</tspan><tspan class="b"> sp.</tspan><tspan class="b" x="2377">ESR4.19</tspan></text></g>
<g id="R14"><text x="2216" y="537"><tspan class="bi">Streptomyces</tspan><tspan class="b"> sp.</tspan><tspan class="b" x="2377">ESR4.20</tspan></text></g>
<g id="R15"><text x="2216" y="574"><tspan class="bi">Streptomyces</tspan><tspan class="b"> sp.</tspan><tspan class="b" x="2377">ECS7.22</tspan></text></g>
<g id="R16"><text x="2216" y="611"><tspan class="bi">Streptomyces</tspan><tspan class="b"> sp.</tspan><tspan class="b" x="2377">ECS7.17</tspan></text></g>
<g id="R17"><text x="2216" y="647"><tspan class="bi">Streptomyces</tspan><tspan class="b"> sp.</tspan><tspan class="b" x="2377">ECL5.20</tspan></text></g>
<g id="R18"><text x="2216" y="684"><tspan class="bi">Streptomyces</tspan><tspan class="b"> sp.</tspan><tspan class="b" x="2377">ECL8.19</tspan></text></g>
<g id="R19"><text x="2216" y="720"><tspan class="bi">Streptomyces</tspan><tspan class="b"> sp.</tspan><tspan class="b" x="2377">EKS5.11</tspan></text></g>
<g id="R20"><text x="2216" y="757"><tspan class="bi">Streptomyces</tspan><tspan class="b"> sp.</tspan><tspan class="b" x="2377">EWL8.17</tspan></text></g>
<g id="R21"><text x="2216" y="794"><tspan class="bi">Streptomyces</tspan><tspan class="b"> sp.</tspan><tspan class="b" x="2377">EKR6.15</tspan><tspan class="aR"> *</tspan></text></g>
<g id="R22"><text x="2216" y="830"><tspan class="i">Streptomyces ginkgonis</tspan><tspan class="r" x="2426">KM-1-2</tspan><tspan class="sup" dy="-9">T</tspan><tspan class="r" x="2507" dy="9">(KU758899.1)</tspan></text></g>
<g id="R23"><text x="2216" y="867"><tspan class="bi">Streptomyces</tspan><tspan class="b"> sp.</tspan><tspan class="b" x="2377">EKR7.5</tspan><tspan class="aR"> *</tspan></text></g>
<g id="R24"><text x="2216" y="903"><tspan class="i">Streptomyces albus</tspan><tspan> subsp. </tspan><tspan class="i">albus</tspan><tspan class="r" x="2504">DSM 40313T</tspan><tspan class="sup" dy="-9">T</tspan><tspan class="r" x="2647" dy="9">(AJ621602.2)</tspan></text></g>
<g id="R25"><text x="2216" y="940"><tspan class="i">Streptomyces epipremni</tspan><tspan class="r" x="2435">PRB2-1</tspan><tspan class="sup" dy="-9">T</tspan><tspan class="r" x="2513" dy="9">(LC333557.1)</tspan></text></g>
<g id="R26"><text x="2216" y="977"><tspan class="bi">Streptomyces</tspan><tspan class="b"> sp.</tspan><tspan class="b" x="2377">ESL2.7</tspan></text></g>
<g id="R27"><text x="2216" y="1013"><tspan class="bi">Streptomyces</tspan><tspan class="b"> sp.</tspan><tspan class="b" x="2377">ESS2.7</tspan></text></g>
<g id="R28"><text x="2216" y="1050"><tspan class="i">Streptomyces yeochonensis</tspan><tspan class="r" x="2461">CN732</tspan><tspan class="sup" dy="-9">T</tspan><tspan class="r" x="2537" dy="9">(AF101415.1)</tspan></text></g>
<g id="R29"><text x="2216" y="1086"><tspan class="i">Streptomyces rubida</tspan><tspan class="r" x="2407">13C15</tspan><tspan class="sup" dy="-9">T</tspan><tspan class="r" x="2475" dy="9">(AY876941.1)</tspan></text></g>
<g id="R30"><text x="2216" y="1123"><tspan class="i">Peterkaempfera bronchialis</tspan><tspan class="r" x="2467">15-057A</tspan><tspan class="sup" dy="-9">T</tspan><tspan class="r" x="2558" dy="9">(MK089584.1)</tspan></text></g>
<g id="R31"><text x="2216" y="1160"><tspan class="bi">Peterkaempfera</tspan><tspan class="b"> sp.</tspan><tspan class="b" x="2400">ESS3.1</tspan></text></g>
<g id="R32"><text x="2216" y="1196"><tspan class="bi">Peterkaempfera</tspan><tspan class="b"> sp.</tspan><tspan class="b" x="2400">ESS2.4</tspan></text></g>
<g id="R33"><text x="2216" y="1233"><tspan class="i">Peterkaempfera griseoplana</tspan><tspan class="r" x="2472">NBRC 12779</tspan><tspan class="sup" dy="-9">T</tspan><tspan class="r" x="2606" dy="9">(AB184138.1)</tspan></text></g>
<g id="R34"><text x="2216" y="1269"><tspan class="i">Embleya scabrisporus</tspan><tspan class="r" x="2419">DSM 41855</tspan><tspan class="sup" dy="-9">T</tspan><tspan class="r" x="2539" dy="9">(AB03058)</tspan></text></g>
</g>

<g id="clade-arrows">
<polygon fill="#175f80" points="715,15 739,38 727,38 727,919 739,919 715,943 691,919 703,919 703,38 691,38"/>
<polygon fill="#8c2330" points="463,1719 471,1730 467,1730 467,1938 471,1938 463,1949 455,1938 459,1938 459,1730 455,1730"/>
<polygon fill="#0f2d47" points="1696,269 1708,282 1700,282 1700,444 1708,444 1696,458 1684,444 1692,444 1692,282 1684,282"/>
<polygon fill="#0f2d47" points="1517,1072 1528,1087 1521,1087 1521,1262 1528,1262 1517,1277 1506,1262 1513,1262 1513,1087 1506,1087"/>
<polygon fill="#0f2d47" points="1483,1398 1492,1410 1487,1410 1487,1477 1492,1477 1483,1488 1474,1477 1479,1477 1479,1410 1474,1410"/>
<polygon fill="#133b5c" points="1712,1571 1725,1598 1718,1598 1718,1910 1725,1910 1712,1937 1699,1910 1706,1910 1706,1598 1699,1598"/>
<polygon fill="#1f6a8a" points="2487,16 2496,28 2490,28 2490,123 2496,123 2487,135 2478,123 2484,123 2484,28 2478,28"/>
<polygon fill="#19607f" points="2492,445 2503,462 2497,462 2497,740 2503,740 2492,759 2481,740 2487,740 2487,462 2481,462"/>
<polygon fill="#1c6686" points="2753,922 2762,935 2756,935 2756,1078 2762,1078 2753,1091 2744,1078 2750,1078 2750,935 2744,935"/>
</g>

<g id="clade-labels">
<g id="lab-rochei"><rect x="775" y="396" width="224" height="56" fill="#f5c6ad"/><text class="bi" x="784" y="432" font-size="23" textLength="205" lengthAdjust="spacingAndGlyphs">Streptomyces rochei</text></g>
<g id="lab-nigra"><rect x="417" y="1235" width="183" height="47" fill="#86dc8f"/><text class="i" x="427" y="1265" textLength="163" lengthAdjust="spacingAndGlyphs">Streptomyces nigra</text></g>
<g id="lab-ardes-1"><rect x="439" y="1400" width="181" height="37" fill="#fdfbc8"/><text class="bi" x="449" y="1423" font-size="15" textLength="159" lengthAdjust="spacingAndGlyphs">Streptomyces ardesiacus</text></g>
<g id="lab-albog-1"><rect x="438" y="1437" width="197" height="39" fill="#d5edc8"/><text class="bi" x="447" y="1462" font-size="15" textLength="175" lengthAdjust="spacingAndGlyphs">Streptomyces albogriseolus</text></g>
<g id="lab-albog-2"><rect x="436" y="1566" width="314" height="48" fill="#d8edcc"/><text class="bi" x="445" y="1597" textLength="238" lengthAdjust="spacingAndGlyphs">Streptomyces albogriseolus</text></g>
<g id="lab-thermocarb"><rect x="492" y="1798" width="303" height="48" fill="#ef9d70"/><text class="bi" x="501" y="1829" textLength="282" lengthAdjust="spacingAndGlyphs">Streptomyces thermocarboxydus</text></g>
<g id="lab-roiet"><rect x="1490" y="53" width="212" height="45" fill="#a5e27c"/><text class="i" x="1499" y="83" textLength="193" lengthAdjust="spacingAndGlyphs">Streptomyces roietensis</text></g>
<g id="lab-jiuj"><rect x="1716" y="356" width="240" height="45" fill="#3fbde9" stroke="#2a9fd0" stroke-width="1.5"/><text class="i" x="1727" y="387" textLength="218" lengthAdjust="spacingAndGlyphs">Streptomyces jiujiangensis</text></g>
<g id="lab-violac"><rect x="1542" y="1140" width="256" height="45" fill="#ec6ae3" stroke="#d450cc" stroke-width="1.5"/><text class="bi" x="1551" y="1171" textLength="236" lengthAdjust="spacingAndGlyphs">Streptomyces violaceorectus</text></g>
<g id="lab-coelic-1"><rect x="1482" y="1289" width="244" height="45" fill="#f7b80d" stroke="#e0a000" stroke-width="1.5"/><text class="bi" x="1490" y="1320" textLength="228" lengthAdjust="spacingAndGlyphs">Streptomyces coelicoflavus</text></g>
<g id="lab-ardes-2"><rect x="1481" y="1347" width="175" height="35" fill="#fefccc"/><text class="bi" x="1490" y="1369" font-size="14" textLength="154" lengthAdjust="spacingAndGlyphs">Streptomyces ardesiacus</text></g>
<g id="lab-coelic-2"><rect x="1506" y="1415" width="246" height="47" fill="#f7b80d" stroke="#e0a000" stroke-width="1.5"/><text class="bi" x="1516" y="1447" textLength="228" lengthAdjust="spacingAndGlyphs">Streptomyces coelicoflavus</text></g>
<g id="lab-ardes-3"><rect x="1474" y="1492" width="176" height="36" fill="#fefccc"/><text class="bi" x="1484" y="1515" font-size="14" textLength="154" lengthAdjust="spacingAndGlyphs">Streptomyces ardesiacus</text></g>
<g id="lab-ardes-big"><rect x="1762" y="1718" width="258" height="49" fill="#fefccc"/><text class="bi" x="1770" y="1750" font-size="23" textLength="242" lengthAdjust="spacingAndGlyphs">Streptomyces ardesiacus</text></g>
<g id="lab-chromo"><rect x="2503" y="46" width="286" height="47" fill="#ebc9ec"/><text class="i" x="2513" y="78" textLength="243" lengthAdjust="spacingAndGlyphs">Streptomyces chromofuscus</text></g>
<g id="lab-thermo"><text class="b orange" x="2529" y="607" font-size="32" textLength="619" lengthAdjust="spacingAndGlyphs"><tspan class="bi orange">Streptomyces thermoviolaceus</tspan><tspan class="orange"> subsp. </tspan><tspan class="bi orange">apingens</tspan></text></g>
<g id="lab-yeoch"><rect x="2459" y="959" width="256" height="47" fill="#b9dcf0"/><text class="i" x="2469" y="990" textLength="236" lengthAdjust="spacingAndGlyphs">Streptomyces yeochonensis</text></g>
<g id="lab-actin"><text class="bi brown" x="2777" y="1000" font-size="28" textLength="208" lengthAdjust="spacingAndGlyphs">“Actinacidiphila”</text></g>
<g id="lab-peterk"><rect x="2486" y="1146" width="183" height="54" fill="#f8b500"/><text class="bi" x="2498" y="1183" font-size="25" textLength="160" lengthAdjust="spacingAndGlyphs">Peterkaempfera</text></g>
</g>
</svg>
